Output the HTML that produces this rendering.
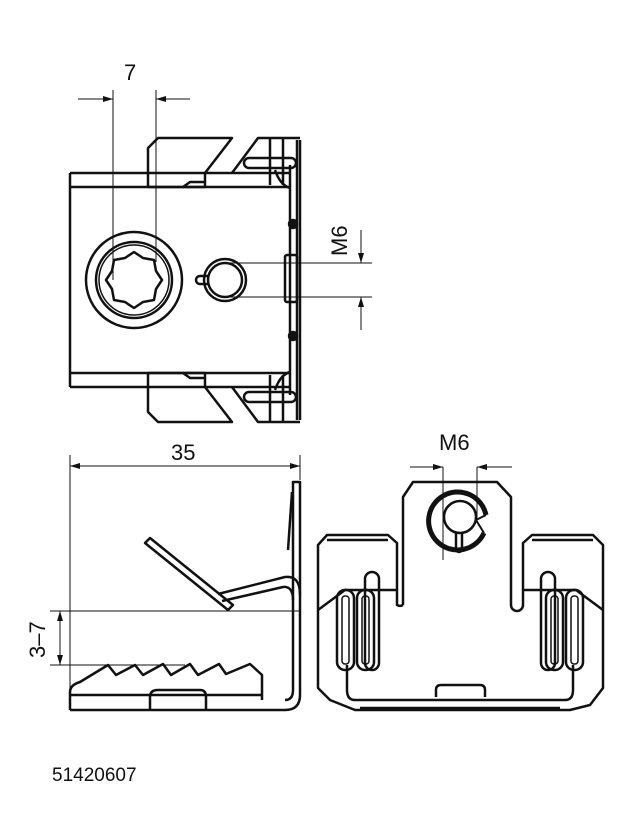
<!DOCTYPE html>
<html><head><style>html,body{margin:0;padding:0;background:#fff}svg{display:block}</style></head>
<body>
<svg width="630" height="821" viewBox="0 0 630 821" xmlns="http://www.w3.org/2000/svg" font-family="Liberation Sans, sans-serif">
<defs>
<marker id="a" markerWidth="10" markerHeight="6" refX="10" refY="3" orient="auto" markerUnits="userSpaceOnUse"><path d="M0,0 L10,3 L0,6 Z" fill="#111"/></marker>
</defs>
<g fill="none" stroke="#111" stroke-width="2.5" stroke-linejoin="round">
<path d="M70,173 H290 M70,187 H290 M70,373 H290 M70,387 H290 M70,173 V387"/>
<path d="M290,165 V395 M297,140 V420 M300,140 V420"/>
<path d="M148,187 V148 L158,138 H232 L205,173 M148,187 H205 V173"/>
<path d="M183,187 L190,182 H205"/>
<path d="M232,173 L258,138 H300 M270,138 V185 M283,138 V185"/>
<rect x="244" y="158" width="52" height="10" rx="5"/>
<path d="M275,170 Q280,185 290,188"/>
<path d="M148,373 V412 L158,422 H232 L205,387 M148,373 H205 V387"/>
<path d="M183,373 L190,378 H205"/>
<path d="M232,387 L258,422 H300 M270,422 V375 M283,422 V375"/>
<rect x="244" y="392" width="52" height="10" rx="5"/>
<path d="M275,390 Q280,375 290,372"/>
<rect x="285" y="255" width="12" height="47" rx="2"/>
<circle cx="293" cy="224" r="4" fill="#111"/>
<circle cx="293" cy="336" r="4" fill="#111"/>
<circle cx="134" cy="280" r="48"/>
<circle cx="134" cy="280" r="38"/>
<circle cx="134" cy="280" r="35" stroke-width="1.5"/>
<polygon points="134,252 143,258 154,260 156,271 162,280 156,289 154,300 143,302 134,308 125,302 114,300 112,289 106,280 112,271 114,260 125,258"/>
<circle cx="225" cy="280" r="21"/>
<circle cx="225" cy="280" r="17"/>
<path d="M208,276 H200 A4,4 0 0 0 200,284 H208"/>
</g>
<g stroke="#111" stroke-width="1" fill="none">
<path d="M113,90 V280 M156,90 V262"/>
<path d="M78,99 H113" marker-end="url(#a)"/>
<path d="M190,99 H156" marker-end="url(#a)"/>
<path d="M225,263 H372 M225,297 H372"/>
<path d="M361,230 V263" marker-end="url(#a)"/>
<path d="M361,330 V297" marker-end="url(#a)"/>
<path d="M70,455 V700 M300,455 V480"/>
<path d="M185,466 H70" marker-end="url(#a)"/>
<path d="M185,466 H300" marker-end="url(#a)"/>
<path d="M50,611 H300 M50,665 H185"/>
<path d="M60,640 V611" marker-end="url(#a)"/>
<path d="M60,640 V665" marker-end="url(#a)"/>
<path d="M443,467 V560 M477,467 V520"/>
<path d="M410,467 H443" marker-end="url(#a)"/>
<path d="M512,467 H477" marker-end="url(#a)"/>
</g>
<g fill="#111" font-size="22">
<text x="124" y="80">7</text>
<text x="171" y="460">35</text>
<text x="439" y="450">M6</text>
<text transform="translate(347,256) rotate(-90)">M6</text>
<text transform="translate(45,658) rotate(-90)">3–7</text>
<text x="52" y="781" font-size="19">51420607</text>
</g>
<g fill="none" stroke="#111" stroke-width="2.5" stroke-linejoin="round">
<path d="M70,710 H285 Q300,710 300,695 V482 H293 V690 Q293,700 285,700"/>
<path d="M70,710 V692 Q70,685 80,682 L108,665 L116,675 L135,665 L143,675 L163,664 L171,675 L190,664 L198,675 L219,664 L226,674 L250,664 L262,675 V700"/>
<path d="M70,695 H262"/>
<path d="M150,710 V697 Q150,690 158,690 H200 Q206,690 206,697 V710"/>
<path d="M292,492 L288,550"/>
<path d="M145,543 L150,538 L233,605 L228,610 Z"/>
<path d="M218,594 L285,577 Q300,575 300,595 M222,601 L283,587 Q293,586 293,600"/>
</g>
<g fill="none" stroke="#111" stroke-width="2.5" stroke-linejoin="round">
<path d="M403,605 V497 L413,482 H497 L511,497 V605 A6,6 0 0 0 523,605 V543 L532,535 H593 L603,545 V688 L590,705 L570,710 H355 L330,700 L318,688 V545 L327,535 H388 L397,543 V605 A6,6 0 0 0 403,605"/>
<path d="M318,610 L345,590 H397 M603,610 L576,590 H523"/>
<path d="M327,540 H388 M532,540 H593"/>
<path d="M486,515 A29,29 0 1 0 484,533" stroke-width="5"/>
<path d="M486,515 L476,520 L484,533" stroke-width="2"/>
<circle cx="460" cy="517" r="16"/>
<path d="M456,532 V549 A3,3 0 0 0 462,549 V532"/>
<path d="M355,700 Q347,700 347,690 V665 M565,700 Q573,700 573,690 V665 M355,700 H565 M360,708 H560"/>
<path d="M436,697 V690 Q436,685 441,685 H480 Q485,685 485,690 V697"/>
<rect x="337" y="590" width="17" height="80" rx="8"/>
<rect x="357" y="590" width="17" height="80" rx="8"/>
<rect x="365" y="572" width="14" height="98" rx="7"/>
<rect x="342" y="596" width="7" height="68" rx="3" stroke-width="1.5"/>
<rect x="362" y="596" width="7" height="68" rx="3" stroke-width="1.5"/>
<rect x="566" y="590" width="17" height="80" rx="8"/>
<rect x="546" y="590" width="17" height="80" rx="8"/>
<rect x="541" y="572" width="14" height="98" rx="7"/>
<rect x="571" y="596" width="7" height="68" rx="3" stroke-width="1.5"/>
<rect x="551" y="596" width="7" height="68" rx="3" stroke-width="1.5"/>
</g>
</svg>
</body></html>
